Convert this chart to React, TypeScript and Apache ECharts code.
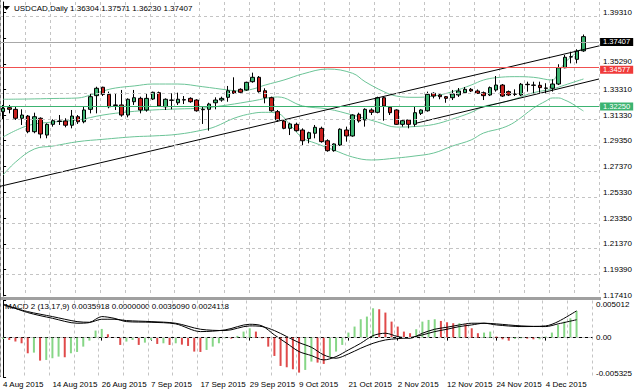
import React, { useEffect, useRef } from "react";
import * as echarts from "echarts";

// ---------- data ----------
const SYMBOL_TITLE = "USDCAD,Daily";
const LAST_OHLC = ["1.36304", "1.37571", "1.36230", "1.37407"];
const MACD_TITLE = "MACD 2 (13,17,9) 0.0035918 0.0000000 0.0036090 0.0024118";

const DATE_LABELS = [
  "4 Aug 2015", "14 Aug 2015", "26 Aug 2015", "7 Sep 2015", "17 Sep 2015", "29 Sep 2015",
  "9 Oct 2015", "21 Oct 2015", "2 Nov 2015", "12 Nov 2015", "24 Nov 2015", "4 Dec 2015",
];
const BARS_PER_LABEL = 8;
const SLOT_COUNT = 96;

const OPEN = [
  1.3160, 1.3191, 1.3178, 1.3109, 1.3126, 1.3005, 1.3109, 1.2979, 1.3062, 1.3084,
  1.3088, 1.3055, 1.3121, 1.3082, 1.3178, 1.3284, 1.3349, 1.3294, 1.3212, 1.3212,
  1.3134, 1.3237, 1.3263, 1.3173, 1.3258, 1.3307, 1.3198, 1.3250, 1.3229, 1.3250,
  1.3263, 1.3250, 1.3178, 1.3178, 1.3229, 1.3250, 1.3271, 1.3320, 1.3333, 1.3328,
  1.3392, 1.3426, 1.3322, 1.3268, 1.3160, 1.3088, 1.3031, 1.3062, 1.3018, 1.2951,
  1.2993, 1.3031, 1.2935, 1.2858, 1.2902, 1.3018, 1.2972, 1.3140, 1.3096, 1.3173,
  1.3155, 1.3268, 1.3194, 1.3173, 1.3062, 1.3096, 1.3062, 1.3147, 1.3167, 1.3302,
  1.3289, 1.3276, 1.3268, 1.3289, 1.3307, 1.3333, 1.3320, 1.3307, 1.3289, 1.3328,
  1.3366, 1.3315, 1.3297, 1.3289, 1.3372, 1.3366, 1.3364, 1.3343, 1.3341, 1.3374,
  1.3500, 1.3583, 1.3565, 1.36304,
];
const CLOSE = [
  1.3186, 1.3178, 1.3109, 1.3134, 1.3005, 1.3121, 1.2987, 1.3062, 1.3090, 1.3088,
  1.3055, 1.3126, 1.3082, 1.3173, 1.3276, 1.3341, 1.3294, 1.3198, 1.3208, 1.3134,
  1.3256, 1.3268, 1.3173, 1.3263, 1.3310, 1.3204, 1.3256, 1.3248, 1.3256, 1.3253,
  1.3237, 1.3167, 1.3175, 1.3219, 1.3250, 1.3263, 1.3322, 1.3302, 1.3310, 1.3387,
  1.3426, 1.3315, 1.3268, 1.3167, 1.3096, 1.3031, 1.3065, 1.3013, 1.2935, 1.2997,
  1.3039, 1.2928, 1.2858, 1.2910, 1.3024, 1.2972, 1.3134, 1.3088, 1.3178, 1.3155,
  1.3268, 1.3204, 1.3152, 1.3062, 1.3090, 1.3062, 1.3152, 1.3173, 1.3294, 1.3281,
  1.3276, 1.3263, 1.3297, 1.3320, 1.3333, 1.3320, 1.3302, 1.3284, 1.3346, 1.3366,
  1.3281, 1.3289, 1.3294, 1.3372, 1.3369, 1.3364, 1.3346, 1.3341, 1.3374, 1.3500,
  1.3581, 1.3585, 1.3630, 1.37407,
];
const HIGH = [
  1.3212, 1.3212, 1.3198, 1.3178, 1.3134, 1.3152, 1.3116, 1.3070, 1.3101, 1.3134,
  1.3109, 1.3173, 1.3134, 1.3198, 1.3302, 1.3353, 1.3353, 1.3315, 1.3302, 1.3328,
  1.3263, 1.3328, 1.3276, 1.3302, 1.3315, 1.3315, 1.3263, 1.3302, 1.3307, 1.3281,
  1.3271, 1.3256, 1.3198, 1.3229, 1.3271, 1.3276, 1.3359, 1.3426, 1.3341, 1.3392,
  1.3462, 1.3436, 1.3341, 1.3276, 1.3173, 1.3096, 1.3075, 1.3075, 1.3031, 1.3005,
  1.3057, 1.3044, 1.2946, 1.2915, 1.3031, 1.3044, 1.3140, 1.3152, 1.3186, 1.3186,
  1.3276, 1.3276, 1.3204, 1.3178, 1.3101, 1.3101, 1.3198, 1.3178, 1.3315, 1.3310,
  1.3302, 1.3281, 1.3328, 1.3343, 1.3351, 1.3343, 1.3332, 1.3316, 1.3355, 1.3436,
  1.3374, 1.3324, 1.3333, 1.3382, 1.3392, 1.3392, 1.3392, 1.3380, 1.3411, 1.3527,
  1.3599, 1.3624, 1.3643, 1.37571,
];
const LOW = [
  1.3101, 1.3147, 1.3096, 1.3057, 1.2993, 1.2993, 1.2954, 1.2954, 1.3044, 1.3057,
  1.3039, 1.3031, 1.3065, 1.3070, 1.3147, 1.3147, 1.3281, 1.3186, 1.3173, 1.3121,
  1.3116, 1.3212, 1.3147, 1.3160, 1.3250, 1.3198, 1.3173, 1.3178, 1.3212, 1.3219,
  1.3229, 1.3160, 1.3065, 1.3013, 1.3178, 1.3237, 1.3237, 1.3297, 1.3302, 1.3322,
  1.3384, 1.3307, 1.3225, 1.3160, 1.3082, 1.3024, 1.2979, 1.3005, 1.2902, 1.2915,
  1.2954, 1.2920, 1.2850, 1.2850, 1.2894, 1.2928, 1.2966, 1.3075, 1.3044, 1.3134,
  1.3147, 1.3090, 1.3134, 1.3057, 1.3044, 1.3031, 1.3044, 1.3134, 1.3160, 1.3263,
  1.3256, 1.3229, 1.3250, 1.3274, 1.3297, 1.3312, 1.3297, 1.3250, 1.3281, 1.3315,
  1.3274, 1.3281, 1.3281, 1.3281, 1.3315, 1.3302, 1.3307, 1.3302, 1.3315, 1.3366,
  1.3496, 1.3534, 1.3534, 1.36230,
];

// Bollinger bands, read as [bar index, price]
const BB_UPPER = [
  [0, 1.3256], [4, 1.3258], [8, 1.3262], [12, 1.3266], [14, 1.3289], [16, 1.3320],
  [18, 1.3343], [21, 1.3359], [24, 1.3374], [28, 1.3374], [32, 1.3353], [36, 1.3328],
  [38, 1.3320], [40, 1.3335], [42, 1.3366], [45, 1.3405], [48, 1.3452], [52, 1.3490],
  [56, 1.3457], [58, 1.3392], [61, 1.3315], [63, 1.3281], [66, 1.3271], [69, 1.3281],
  [72, 1.3315], [75, 1.3366], [77, 1.3405], [79, 1.3423], [82, 1.3431], [85, 1.3426],
  [88, 1.3405], [89, 1.3467], [90, 1.3537], [91, 1.3583], [92, 1.3622], [93, 1.3661],
];
const BB_MIDDLE = [
  [0, 1.2964], [4, 1.3053], [8, 1.3080], [12, 1.3096], [16, 1.3134], [20, 1.3158],
  [24, 1.3173], [28, 1.3181], [32, 1.3188], [36, 1.3212], [40, 1.3243], [44, 1.3274],
  [48, 1.3204], [52, 1.3181], [56, 1.3134], [60, 1.3080], [63, 1.3041], [66, 1.3045],
  [69, 1.3061], [72, 1.3103], [75, 1.3154], [77, 1.3200], [80, 1.3231], [82, 1.3258],
  [85, 1.3307], [88, 1.3335], [90, 1.3366], [93, 1.3413],
];
const BB_LOWER = [
  [0, 1.2670], [2, 1.2770], [5, 1.2871], [8, 1.2894], [12, 1.2928], [16, 1.2946],
  [21, 1.2966], [24, 1.2972], [28, 1.2985], [32, 1.3018], [34, 1.3044], [37, 1.3109],
  [40, 1.3147], [42, 1.3155], [44, 1.3147], [46, 1.3057], [48, 1.2956], [50, 1.2917],
  [53, 1.2863], [56, 1.2809], [59, 1.2786], [63, 1.2801], [66, 1.2817], [69, 1.2840],
  [72, 1.2894], [75, 1.2941], [77, 1.2995], [80, 1.3034], [82, 1.3080], [85, 1.3188],
  [87, 1.3243], [88, 1.3266], [89, 1.3266], [90, 1.3250], [91, 1.3227], [92, 1.3196],
  [93, 1.3165],
];

// drawn trend lines [bar index, price]
const TREND_UPPER = [[-0.5, 1.2582], [95.5, 1.3669]];
const TREND_LOWER = [[66.3, 1.3072], [95.5, 1.3413]];

const RED_LEVEL = 1.34577;
const GREEN_LEVEL = 1.3225;
const BID = 1.37407;

// price grid/tick values and the axis label texts (the 1.37270 label is hidden by the bid box)
const PRICE_TICKS = [1.1741, 1.1939, 1.2137, 1.2335, 1.2533, 1.2737, 1.2935, 1.3133, 1.3331, 1.3529, 1.3727, 1.3931];
const PRICE_LABELS = ["1.17410", "1.19390", "1.21370", "1.23350", "1.25330", "1.27370", "1.29350", "1.31330", "1.33310", "1.35290", "1.39310"];
// where MT4 prints those label texts on the price scale (1.35290 is drawn a little above its tick)
const PRICE_LABEL_AT = [1.1741, 1.1939, 1.2137, 1.2335, 1.2533, 1.2737, 1.2935, 1.3133, 1.3331, 1.3548, 1.3931];
const PRICE_MIN = 1.17333;
const PRICE_MAX = 1.40088;

const MACD_HIST = [
  -0.00018, -0.00032, -0.00054, -0.00077, -0.00212, -0.00203, -0.00311, -0.00302, -0.00279, -0.00257,
  -0.00266, -0.00212, -0.00194, -0.00122, -0.00041, 0.00095, 0.00117, 0.00045, 0.00002, -0.00099,
  -0.00054, -0.00032, -0.00099, -0.00068, -0.00032, -0.00086, -0.00077, -0.00099, -0.00077, -0.00095,
  -0.00113, -0.00189, -0.00194, -0.00167, -0.00122, -0.00077, -0.00009, -0.00014, 0.00023, 0.00081,
  0.00126, 0.00081, -0.00009, -0.00122, -0.00248, -0.00383, -0.00401, -0.00428, -0.00473, -0.00437,
  -0.00324, -0.00338, -0.00356, -0.00257, -0.00189, -0.00099, 0.00068, 0.00149, 0.00248, 0.00284,
  0.00396, 0.00383, 0.00338, 0.00216, 0.00149, 0.00081, 0.00059, 0.00113, 0.00216, 0.00239,
  0.00248, 0.00225, 0.00207, 0.00194, 0.00194, 0.00180, 0.00126, 0.00059, 0.00068, 0.00081,
  0.00014, -0.00023, -0.00041, -0.00018, -0.00009, -0.00014, -0.00023, -0.00023, 0.00014, 0.00068,
  0.00171, 0.00216, 0.00261, 0.00359,
];
const MACD_FAST = [
  [0, 0.00455], [4, 0.00338], [8, 0.00261], [12, 0.00194], [14, 0.00203], [16, 0.00284],
  [18, 0.00261], [20, 0.00216], [24, 0.00207], [28, 0.00185], [32, 0.00081], [36, 0.00104],
  [40, 0.00180], [42, 0.00158], [44, 0.00036], [46, -0.00077], [48, -0.00189], [50, -0.00243],
  [52, -0.00302], [54, -0.00257], [56, -0.00167], [58, -0.00077], [60, 0.00027], [62, 0.00059],
  [64, 0.00014], [66, -0.00009], [68, 0.00059], [70, 0.00113], [72, 0.00140], [74, 0.00171],
  [76, 0.00194], [78, 0.00194], [80, 0.00171], [84, 0.00149], [88, 0.00158], [90, 0.00216],
  [93, 0.00361],
];
const MACD_SIGNAL = [
  [0, 0.00441], [4, 0.00351], [8, 0.00284], [12, 0.00216], [14, 0.00207], [16, 0.00248],
  [18, 0.00248], [20, 0.00230], [24, 0.00216], [28, 0.00194], [32, 0.00113], [36, 0.00095],
  [40, 0.00158], [42, 0.00149], [44, 0.00095], [46, 0.00014], [48, -0.00068], [50, -0.00131],
  [52, -0.00234], [54, -0.00279], [56, -0.00221], [58, -0.00144], [60, -0.00077], [62, -0.00032],
  [64, -0.00014], [66, 0.0], [68, 0.00036], [70, 0.00081], [72, 0.00113], [74, 0.00149],
  [76, 0.00171], [78, 0.00194], [80, 0.00185], [84, 0.00158], [88, 0.00149], [90, 0.00185],
  [93, 0.00241],
];
const MACD_MAX = 0.005012;
const MACD_MIN = -0.005325;
const MACD_TICKS = [MACD_MIN, 0, MACD_MAX];

// ---------- styles ----------
const FONT = "'Liberation Sans', Arial, sans-serif";
const GRID_DASH = { color: "#c4c4c4", width: 1, type: [3, 3] as number[] };
const BB_COLOR = "#6cc497";
const UP_FILL = "#3cb371";
const DOWN_FILL = "#c8201e";
const HIST_UP = "#86d686";
const HIST_DOWN = "#e04a4a";

export default function App() {
  const ref = useRef<HTMLDivElement>(null);

  useEffect(() => {
    if (!ref.current) return;
    const chart = echarts.init(ref.current, null, { renderer: "svg" });
    const slots = Array.from({ length: SLOT_COUNT }, (_, i) => String(i));
    const candles = OPEN.map((o, i) => [o, CLOSE[i], LOW[i], HIGH[i]]);
    const hist = MACD_HIST.map((v, i) => ({
      value: v,
      itemStyle: { color: i === 0 || v >= MACD_HIST[i - 1] ? HIST_UP : HIST_DOWN },
    }));
    const priceLabel = (v: number) => {
      let best = 0;
      PRICE_LABEL_AT.forEach((a, i) => {
        if (Math.abs(a - v) < Math.abs(PRICE_LABEL_AT[best] - v)) best = i;
      });
      return PRICE_LABELS[best];
    };

    const levelLabel = (bg: string, dy: number) => ({
      show: true,
      position: "end",
      distance: 1,
      offset: [0, dy],
      backgroundColor: bg,
      color: "#fff",
      fontSize: 7.5,
      lineHeight: 7,
      fontFamily: FONT,
      padding: [1, 3, 0, 3],
    });

    const option: any = {
      animation: false,
      backgroundColor: "#fff",
      textStyle: { fontFamily: FONT, fontSize: 8 },
      grid: [
        { left: 0, top: 2, width: 601, height: 294 },
        { left: 0, top: 300.5, width: 601, height: 76.5 },
      ],
      xAxis: [
        {
          type: "category", gridIndex: 0, data: slots, boundaryGap: true,
          axisLine: { show: false }, axisTick: { show: false }, axisLabel: { show: false },
          splitLine: { show: true, interval: 3, lineStyle: GRID_DASH },
        },
        { type: "value", gridIndex: 0, min: -0.5, max: SLOT_COUNT - 0.5, show: false },
        {
          type: "category", gridIndex: 1, data: slots, boundaryGap: true,
          axisLine: { show: true, lineStyle: { color: "#000", width: 1 } },
          axisTick: { show: true, interval: BARS_PER_LABEL - 1, alignWithLabel: true, length: 3, lineStyle: { color: "#000" } },
          axisLabel: {
            interval: BARS_PER_LABEL - 1, align: "left", margin: 3, fontSize: 8, color: "#000", fontFamily: FONT,
            formatter: (v: string) => DATE_LABELS[Number(v) / BARS_PER_LABEL] ?? "",
          },
          splitLine: { show: true, interval: 3, lineStyle: GRID_DASH },
        },
        { type: "value", gridIndex: 1, min: -0.5, max: SLOT_COUNT - 0.5, show: false },
      ],
      yAxis: [
        {
          type: "value", gridIndex: 0, position: "right", min: PRICE_MIN, max: PRICE_MAX,
          axisLine: { show: true, lineStyle: { color: "#000", width: 1 } },
          axisTick: { show: true, customValues: PRICE_TICKS, length: 3, lineStyle: { color: "#000" } },
          axisLabel: {
            customValues: PRICE_LABEL_AT, margin: 4, fontSize: 8, lineHeight: 8, color: "#000", fontFamily: FONT,
            formatter: priceLabel,
          },
          splitLine: { show: false },
        },
        {
          type: "value", gridIndex: 1, position: "right", min: MACD_MIN, max: MACD_MAX,
          axisLine: { show: true, lineStyle: { color: "#000", width: 1 } },
          axisTick: { show: true, customValues: MACD_TICKS, length: 3, lineStyle: { color: "#000" } },
          axisLabel: {
            customValues: MACD_TICKS, margin: 4, fontSize: 8, color: "#000", fontFamily: FONT,
            formatter: (v: number) =>
              v > 0.001 ? "{top|" + v.toFixed(6) + "}" : v < -0.001 ? "{bot|" + v.toFixed(6) + "}" : "0.00",
            rich: {
              top: { padding: [8, 0, 0, 0], fontSize: 8, color: "#000", fontFamily: FONT },
              bot: { padding: [0, 0, 8, 0], fontSize: 8, color: "#000", fontFamily: FONT },
            },
          },
          splitLine: { show: false },
        },
      ],
      series: [
        {
          type: "line", name: "bbUpper", xAxisIndex: 1, yAxisIndex: 0, data: BB_UPPER,
          smooth: 0.4, symbol: "none", lineStyle: { color: BB_COLOR, width: 1 }, z: 2, silent: true,
          markLine: {
            silent: true, symbol: "none", label: { show: false }, lineStyle: GRID_DASH,
            data: PRICE_TICKS.map((v) => ({ yAxis: v })),
          },
        },
        {
          type: "line", name: "bbMiddle", xAxisIndex: 1, yAxisIndex: 0, data: BB_MIDDLE,
          smooth: 0.4, symbol: "none", lineStyle: { color: BB_COLOR, width: 1 }, z: 2, silent: true,
        },
        {
          type: "line", name: "bbLower", xAxisIndex: 1, yAxisIndex: 0, data: BB_LOWER,
          smooth: 0.4, symbol: "none", lineStyle: { color: BB_COLOR, width: 1 }, z: 2, silent: true,
        },
        {
          type: "candlestick", name: SYMBOL_TITLE, xAxisIndex: 0, yAxisIndex: 0, data: candles,
          barWidth: 4, z: 3,
          itemStyle: { color: UP_FILL, color0: DOWN_FILL, borderColor: "#000", borderColor0: "#000", borderWidth: 1 },
        },
        {
          type: "line", name: "trendUpper", xAxisIndex: 1, yAxisIndex: 0, data: TREND_UPPER,
          symbol: "none", lineStyle: { color: "#000", width: 1 }, z: 4, silent: true,
          markLine: {
            silent: true, symbol: "none",
            data: [
              { yAxis: BID, lineStyle: { color: "#a8a8a8", width: 1, type: "solid" }, label: { ...levelLabel("#000", 0), formatter: () => BID.toFixed(5) } },
              { yAxis: RED_LEVEL, lineStyle: { color: "#f05050", width: 1, type: "solid" }, label: { ...levelLabel("#f03a3a", 2), formatter: () => RED_LEVEL.toFixed(5) } },
              { yAxis: GREEN_LEVEL, lineStyle: { color: "#3cb371", width: 1, type: "solid" }, label: { ...levelLabel("#3cb371", 0), formatter: () => GREEN_LEVEL.toFixed(5) } },
            ],
          },
        },
        {
          type: "line", name: "trendLower", xAxisIndex: 1, yAxisIndex: 0, data: TREND_LOWER,
          symbol: "none", lineStyle: { color: "#000", width: 1 }, z: 4, silent: true,
        },
        {
          type: "bar", name: "macdHist", xAxisIndex: 2, yAxisIndex: 1, data: hist, barWidth: 2, z: 2,
          markLine: {
            silent: true, symbol: "none", label: { show: false }, lineStyle: GRID_DASH,
            data: [{ yAxis: 0 }],
          },
        },
        {
          type: "line", name: "macdFast", xAxisIndex: 3, yAxisIndex: 1, data: MACD_FAST,
          smooth: 0.3, symbol: "none", lineStyle: { color: "#000", width: 1 }, z: 3, silent: true,
        },
        {
          type: "line", name: "macdSignal", xAxisIndex: 3, yAxisIndex: 1, data: MACD_SIGNAL,
          smooth: 0.3, symbol: "none", lineStyle: { color: "#000", width: 1 }, z: 3, silent: true,
        },
      ],
      graphic: [
        { type: "polygon", shape: { points: [[3, 6], [10, 6], [6.5, 10]] }, style: { fill: "#000" } },
        {
          type: "text", left: 14, top: 4,
          style: { text: SYMBOL_TITLE + " " + LAST_OHLC.join(" "), fill: "#000", font: "8px " + FONT },
        },
        {
          type: "text", left: 5, top: 302,
          style: { text: MACD_TITLE, fill: "#000", font: "8px " + FONT },
        },
        { type: "rect", shape: { x: 0, y: 297, width: 601, height: 3 }, style: { fill: "#a0a0a0" } },
        { type: "line", shape: { x1: 0.5, y1: 0, x2: 0.5, y2: 377 }, style: { stroke: "#808080", lineWidth: 1 } },
      ],
    };

    chart.setOption(option);
    return () => chart.dispose();
  }, []);

  return (
    <div
      ref={ref}
      style={{ position: "fixed", left: 0, top: 0, width: 635, height: 391, background: "#fff" }}
    />
  );
}
